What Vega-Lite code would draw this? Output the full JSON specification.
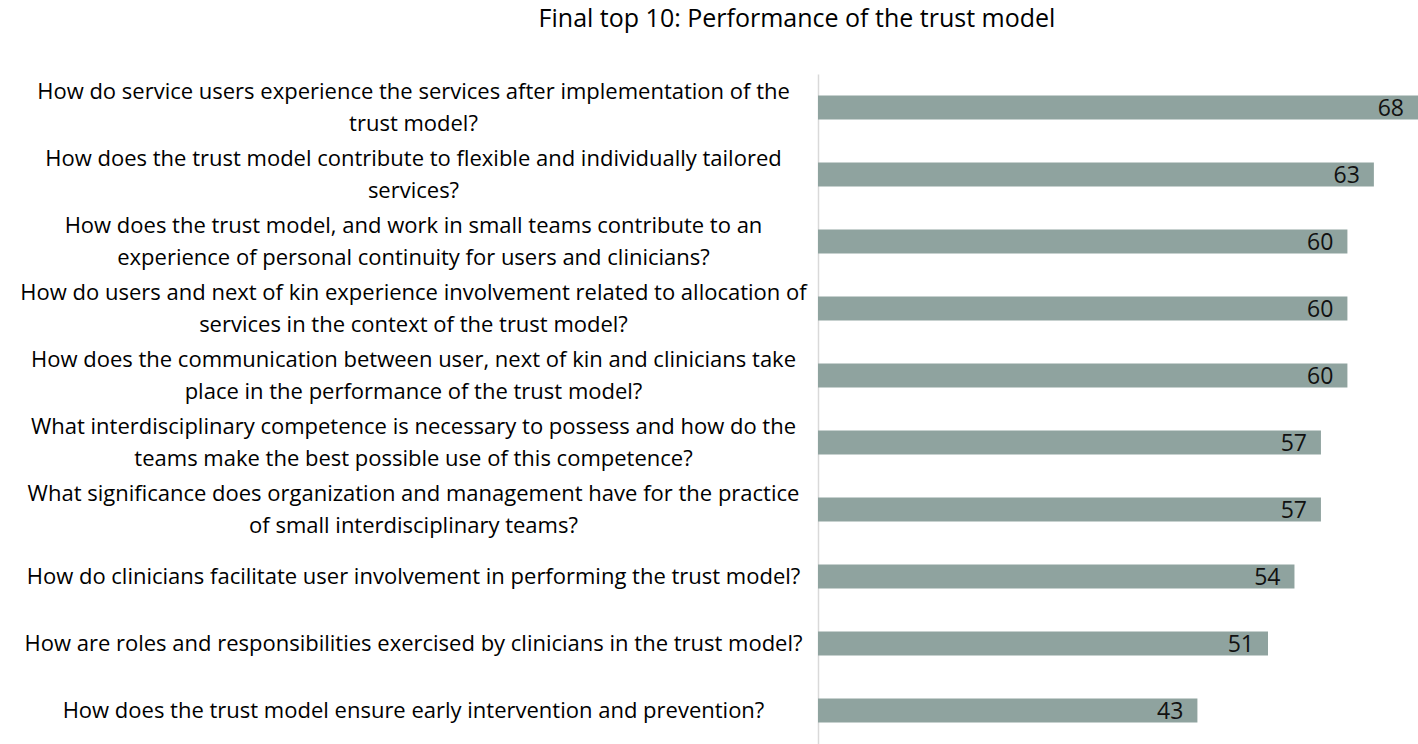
{
  "$schema": "https://vega.github.io/schema/vega-lite/v6.json",
  "width": 600,
  "height": 670,
  "autosize": {"type": "none"},
  "padding": {"left": 818, "top": 74, "right": 0, "bottom": 0},
  "background": "white",
  "title": {
    "text": "Final top 10: Performance of the trust model",
    "font": "Open Sans",
    "fontSize": 25,
    "fontWeight": "normal",
    "color": "#000000",
    "anchor": "middle",
    "frame": "group",
    "dx": -321,
    "offset": 42
  },
  "data": {
    "values": [
      {"question": "How do service users experience the services after implementation of the|trust model?", "score": 68},
      {"question": "How does the trust model contribute to flexible and individually tailored|services?", "score": 63},
      {"question": "How does the trust model, and work in small teams contribute to an|experience of personal continuity for users and clinicians?", "score": 60},
      {"question": "How do users and next of kin experience involvement related to allocation of|services in the context of the trust model?", "score": 60},
      {"question": "How does the communication between user, next of kin and clinicians take|place in the performance of the trust model?", "score": 60},
      {"question": "What interdisciplinary competence is necessary to possess and how do the|teams make the best possible use of this competence?", "score": 57},
      {"question": "What significance does organization and management have for the practice|of small interdisciplinary teams?", "score": 57},
      {"question": "How do clinicians facilitate user involvement in performing the trust model?", "score": 54},
      {"question": "How are roles and responsibilities exercised by clinicians in the trust model?", "score": 51},
      {"question": "How does the trust model ensure early intervention and prevention?", "score": 43}
    ]
  },
  "encoding": {
    "y": {
      "field": "question",
      "type": "nominal",
      "sort": null,
      "title": null,
      "scale": {"paddingInner": 0.64, "paddingOuter": 0.32},
      "axis": {
        "labelExpr": "split(datum.label, '|')",
        "labelFont": "Open Sans",
        "labelFontSize": 22,
        "labelColor": "#000000",
        "labelLineHeight": 32,
        "labelAlign": "center",
        "labelBaseline": "middle",
        "labelOffset": {"condition": {"test": "indexof(datum.value, '|') >= 0", "value": -16}, "value": 0},
        "labelPadding": 405,
        "labelLimit": 0,
        "ticks": false,
        "tickSize": 0,
        "domain": true,
        "domainColor": "#d9d9d9",
        "domainWidth": 1.5,
        "grid": false
      }
    },
    "x": {
      "field": "score",
      "type": "quantitative",
      "scale": {"domain": [0, 68], "nice": false, "zero": true},
      "axis": null
    }
  },
  "layer": [
    {"mark": {"type": "bar", "color": "#8fa39f"}},
    {
      "mark": {
        "type": "text",
        "align": "right",
        "baseline": "middle",
        "dx": -14,
        "dy": 1,
        "font": "Open Sans",
        "fontSize": 23,
        "color": "#111111"
      },
      "encoding": {"text": {"field": "score", "type": "quantitative"}}
    }
  ],
  "config": {"view": {"stroke": null}}
}
